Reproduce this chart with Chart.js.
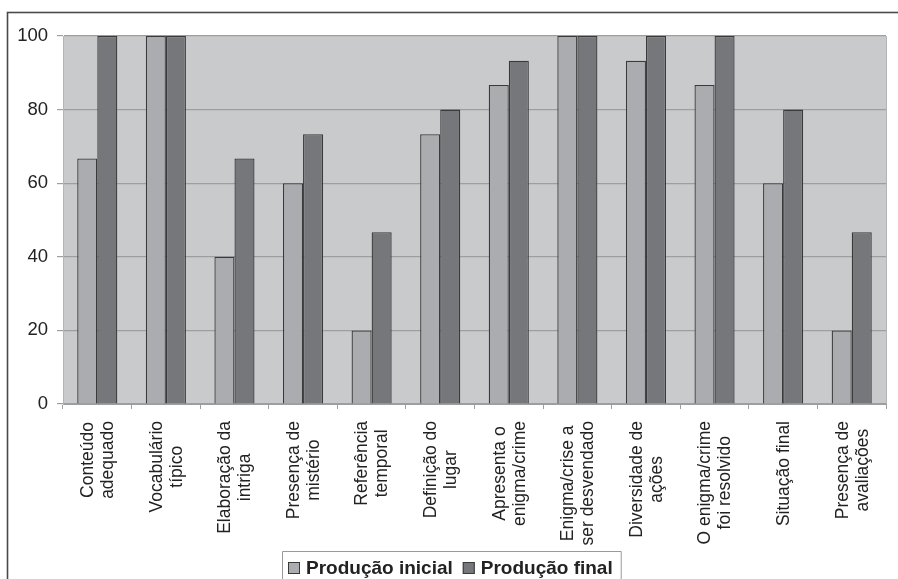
<!DOCTYPE html>
<html>
<head>
<meta charset="utf-8">
<script src="https://cdn.jsdelivr.net/npm/chart.js@4/dist/chart.umd.min.js"></script>
<style>
  html, body { margin: 0; padding: 0; background: #ffffff; }
  #wrap { position: relative; width: 898px; height: 579px; }
</style>
</head>
<body>
<div id="wrap"><canvas id="chart" width="898" height="579"></canvas></div>
<script>
// Criteria evaluated in the texts (each label split into its printed lines)
const categories = [
  ["Conteúdo", "adequado"],
  ["Vocabulário", "típico"],
  ["Elaboração da", "intriga"],
  ["Presença de", "mistério"],
  ["Referência", "temporal"],
  ["Definição do", "lugar"],
  ["Apresenta o", "enigma/crime"],
  ["Enigma/crise a", "ser desvendado"],
  ["Diversidade de", "ações"],
  ["O enigma/crime", "foi resolvido"],
  ["Situação final"],
  ["Presença de", "avaliações"]
];

// Percentage of texts meeting each criterion
const producaoInicial = [66.7, 100, 40, 60, 20, 73.3, 86.7, 100, 93.3, 86.7, 60, 20];
const producaoFinal   = [100, 100, 66.7, 73.3, 46.7, 80, 93.3, 100, 100, 100, 80, 46.7];

const seriesNames = ["Produção inicial", "Produção final"];
const yTicks = [0, 20, 40, 60, 80, 100];

const FONT = "'Liberation Sans', Arial, Helvetica, sans-serif";
const COL_INICIAL = "#abacaf";
const COL_FINAL = "#76777b";
const COL_BAR_EDGE = "#3a3a3a";
const COL_GRID = "#9d9ea0";

// Outer frame, plot background and plot border
const framePlugin = {
  id: "frame",
  beforeDraw(chart) {
    const ctx = chart.ctx;
    const a = chart.chartArea;
    ctx.save();
    ctx.fillStyle = "#ffffff";
    ctx.fillRect(0, 0, chart.width, chart.height);
    ctx.strokeStyle = "#4a4a4a";
    ctx.lineWidth = 1.6;
    ctx.strokeRect(7.5, 12.5, chart.width + 20, chart.height + 20);
    ctx.fillStyle = "#c9cacc";
    ctx.fillRect(a.left, a.top, a.right - a.left, a.bottom - a.top);
    ctx.restore();
  },
  afterDatasetsDraw(chart) {
    const ctx = chart.ctx;
    const a = chart.chartArea;
    ctx.save();
    ctx.strokeStyle = "#b4b5b7";
    ctx.lineWidth = 1;
    ctx.beginPath();
    ctx.moveTo(a.right + 0.5, a.top);
    ctx.lineTo(a.right + 0.5, a.bottom);
    ctx.stroke();
    ctx.restore();
  }
};

// Rotated, multi-line category labels centred under each pair of bars
const categoryLabelPlugin = {
  id: "categoryLabels",
  afterDraw(chart) {
    const ctx = chart.ctx;
    const xs = chart.scales.x;
    const topY = xs.top + 17;
    const lineGap = 20;
    ctx.save();
    ctx.font = "17.5px " + FONT;
    ctx.fillStyle = "#222222";
    ctx.textAlign = "center";
    ctx.textBaseline = "middle";
    chart.data.labels.forEach((lines, i) => {
      const cx = xs.getPixelForValue(i);
      const w = Math.max(...lines.map(l => ctx.measureText(l).width));
      const cy = topY + w / 2;
      lines.forEach((line, j) => {
        const lx = cx + (j - (lines.length - 1) / 2) * lineGap + 1;
        ctx.save();
        ctx.translate(lx, cy);
        ctx.rotate(-Math.PI / 2);
        ctx.fillText(line, 0, 0);
        ctx.restore();
      });
    });
    ctx.restore();
  }
};

// Boxed legend below the category labels
const legendBoxPlugin = {
  id: "legendBox",
  afterDraw(chart) {
    const ctx = chart.ctx;
    ctx.save();
    ctx.font = "bold 19px " + FONT;
    const boxLeft = 282, boxTop = 551;
    const sq = 12, gapAfterSq = 6, gapItems = 10;
    let x = boxLeft + 6;
    const baseline = 574;
    chart.data.datasets.forEach((ds, i) => {
      ctx.fillStyle = ds.backgroundColor;
      ctx.fillRect(x, 562, sq, sq);
      ctx.strokeStyle = "#3a3a3a";
      ctx.lineWidth = 1;
      ctx.strokeRect(x + 0.5, 562.5, sq - 1, sq - 1);
      x += sq + gapAfterSq;
      ctx.fillStyle = "#222222";
      ctx.textBaseline = "alphabetic";
      ctx.textAlign = "left";
      ctx.fillText(ds.label, x, baseline);
      x += ctx.measureText(ds.label).width + (i < chart.data.datasets.length - 1 ? gapItems : 8);
    });
    const boxRight = x;
    ctx.strokeStyle = "#9a9a9a";
    ctx.lineWidth = 1;
    ctx.beginPath();
    ctx.moveTo(boxLeft + 0.5, chart.height + 2);
    ctx.lineTo(boxLeft + 0.5, boxTop + 0.5);
    ctx.lineTo(boxRight + 0.5, boxTop + 0.5);
    ctx.lineTo(boxRight + 0.5, chart.height + 2);
    ctx.stroke();
    ctx.restore();
  }
};

new Chart(document.getElementById("chart"), {
  type: "bar",
  data: {
    labels: categories,
    datasets: [
      {
        label: seriesNames[0],
        data: producaoInicial,
        backgroundColor: COL_INICIAL,
        borderColor: COL_BAR_EDGE,
        borderWidth: 1.3
      },
      {
        label: seriesNames[1],
        data: producaoFinal,
        backgroundColor: COL_FINAL,
        borderColor: COL_BAR_EDGE,
        borderWidth: 1.3
      }
    ]
  },
  options: {
    responsive: false,
    animation: false,
    devicePixelRatio: 1,
    layout: { padding: { top: 36, right: 12, bottom: 0, left: 0 } },
    datasets: {
      bar: { categoryPercentage: 0.585, barPercentage: 1.0 }
    },
    plugins: {
      legend: { display: false },
      tooltip: { enabled: false }
    },
    scales: {
      x: {
        type: "category",
        offset: true,
        grid: {
          offset: true,
          drawOnChartArea: false,
          drawTicks: true,
          tickLength: 5,
          color: COL_GRID
        },
        border: { display: true, color: COL_GRID, width: 1 },
        ticks: { display: false },
        afterFit(scale) { scale.height = 579 - 404; }
      },
      y: {
        min: 0,
        max: 100,
        afterBuildTicks(scale) { scale.ticks = yTicks.map(v => ({ value: v })); },
        grid: {
          color: COL_GRID,
          lineWidth: 1.2,
          drawTicks: true,
          tickLength: 6
        },
        border: { display: true, color: "#b4b5b7", width: 1 },
        ticks: {
          padding: 9,
          color: "#222222",
          font: { family: FONT, size: 18.5 }
        },
        afterFit(scale) { scale.width = 63; }
      }
    }
  },
  plugins: [framePlugin, categoryLabelPlugin, legendBoxPlugin]
});
</script>
</body>
</html>
